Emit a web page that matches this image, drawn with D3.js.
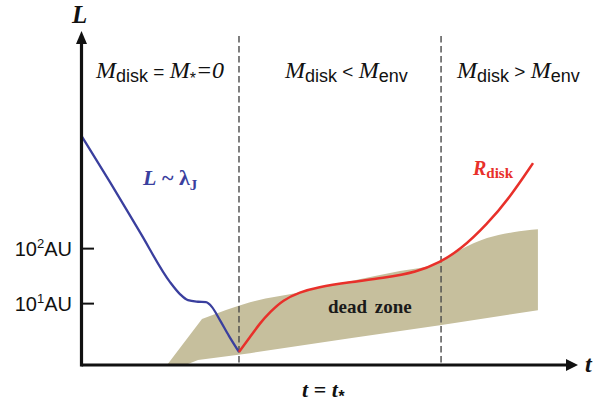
<!DOCTYPE html>
<html>
<head>
<meta charset="utf-8">
<script src="https://cdn.jsdelivr.net/npm/d3@7"></script>
<style>
  body { margin: 0; background: #fff; }
  svg { display: block; }
</style>
</head>
<body>
<svg id="chart" width="601" height="406"></svg>
<script>
// Time in units of t_*, size scale L in AU.
const tickValues = [10, 100];
const tickExponents = ["1", "2"];
const tickUnit = "AU";
const phaseBounds = [1, 2.283];

// Jeans length of the collapsing core, L ~ lambda_J
const jeansT = [0, 0.181, 0.371, 0.562, 0.625, 0.676, 0.740, 0.790, 0.829, 0.879, 0.937, 1.0];
const jeansL = [11000, 1585, 195, 24.1, 14.6, 11.3, 10.6, 10.4, 8.46, 4.91, 2.51, 1.29];

// Disk radius after t_*
const diskT = [1.0, 1.070, 1.133, 1.197, 1.279, 1.387, 1.495, 1.705, 1.914, 2.130, 2.276, 2.403, 2.575, 2.721, 2.867];
const diskL = [1.29, 2.41, 4.33, 6.86, 11.4, 15.8, 19.5, 24.1, 28.5, 36.6, 55.6, 92, 270, 845, 3510];

// Dead zone band: outer edge (from its inner corner) and inner edge back to the axis
const deadTopT = [0.765, 1.070, 1.387, 1.705, 2.022, 2.276, 2.403, 2.575, 2.740, 2.898];
const deadTopL = [5.12, 10.4, 15.8, 25.1, 38.2, 55.6, 92, 152, 195, 221];
const deadBotT = [2.898, 2.276, 1.705, 1.070, 0.740, 0.676, 0.543];
const deadBotL = [7.46, 3.98, 2.31, 1.23, 0.92, 0.78, 0.75];

const svg = d3.select("#chart");
const serif = "'Liberation Serif', 'Times New Roman', serif";
const sans = "'Liberation Sans', Arial, Helvetica, sans-serif";

const x = d3.scaleLinear().domain([0, 3.15]).range([81.5, 577.6]);
const y = d3.scaleLog().domain([0.75, 8.5e5]).range([365, 32]);

const zip = (ts, ls) => ts.map((t, i) => [t, ls[i]]);
const jeans = zip(jeansT, jeansL);
const disk = zip(diskT, diskL);
const deadTop = zip(deadTopT, deadTopL);
const deadBot = zip(deadBotT, deadBotL);

// dead zone band
const smooth = d3.line().x(d => x(d[0])).y(d => y(d[1])).curve(d3.curveMonotoneX);
const straight = d3.line().x(d => x(d[0])).y(d => y(d[1]));
const bandPath = smooth(deadTop) + straight(deadBot).replace(/^M/, "L") + "Z";
svg.append("path").attr("d", bandPath).attr("fill", "#c6bf9d");

// phase boundaries
phaseBounds.forEach(t => {
  svg.append("line")
    .attr("x1", x(t)).attr("x2", x(t))
    .attr("y1", 36).attr("y2", 365)
    .attr("stroke", "#4a4a4a").attr("stroke-width", 1.4)
    .attr("stroke-dasharray", "6.5,3.5");
});

// curves
svg.append("path").datum(jeans)
  .attr("d", smooth).attr("fill", "none")
  .attr("stroke", "#3a3f9e").attr("stroke-width", 2.3);
svg.append("path").datum(disk)
  .attr("d", d3.line().x(d => x(d[0])).y(d => y(d[1])).curve(d3.curveBasis))
  .attr("fill", "none")
  .attr("stroke", "#e8302a").attr("stroke-width", 2.5);

// axes with arrowheads
const x0 = x(0), yBase = y(0.75);
svg.append("line").attr("x1", x0).attr("x2", 568).attr("y1", yBase).attr("y2", yBase)
  .attr("stroke", "#111").attr("stroke-width", 3.2);
svg.append("path").attr("d", `M578,${yBase} L566,${yBase - 6} L566,${yBase + 6} Z`).attr("fill", "#111");
svg.append("line").attr("x1", x0).attr("x2", x0).attr("y1", yBase + 1.6).attr("y2", 42)
  .attr("stroke", "#111").attr("stroke-width", 3.2);
svg.append("path").attr("d", `M${x0},31 L${x0 - 5.5},44 L${x0 + 5.5},44 Z`).attr("fill", "#111");

// tick marks and labels
const yAxis = d3.axisLeft(y).tickValues(tickValues).tickSize(-11).tickPadding(11).tickFormat(() => "");
const gy = svg.append("g").attr("transform", `translate(${x0 + 1.5},0)`).call(yAxis);
gy.select(".domain").remove();
gy.selectAll(".tick line").attr("stroke", "#111").attr("stroke-width", 2);
gy.selectAll(".tick text").each(function(d, i) {
  const t = d3.select(this)
    .attr("font-family", sans).attr("font-size", 20).attr("fill", "#111")
    .attr("dy", "0.35em");
  t.append("tspan").text("10");
  t.append("tspan").attr("font-size", 13).attr("dy", -8).text(tickExponents[i]);
  t.append("tspan").attr("dy", 8).text(tickUnit);
});

// axis titles
svg.append("text").attr("x", 72).attr("y", 23)
  .attr("font-family", serif).attr("font-style", "italic").attr("font-weight", "bold")
  .attr("font-size", 25).attr("fill", "#111").text("L");
svg.append("text").attr("x", 585).attr("y", 372)
  .attr("font-family", serif).attr("font-style", "italic").attr("font-weight", "bold")
  .attr("font-size", 24).attr("fill", "#111").text("t");

const tstar = svg.append("text").attr("x", 302).attr("y", 397)
  .attr("font-family", serif).attr("font-style", "italic").attr("font-weight", "bold")
  .attr("font-size", 22).attr("fill", "#111");
tstar.append("tspan").text("t");
tstar.append("tspan").attr("font-style", "normal").text(" = ");
tstar.append("tspan").text("t");
tstar.append("tspan").attr("font-size", 16).attr("dy", 5).attr("font-family", sans).text("*");

// phase labels
function phaseLabel(px, parts) {
  const t = svg.append("text").attr("x", px).attr("y", 78).attr("fill", "#111");
  let shift = 0;
  parts.forEach(p => {
    const s = t.append("tspan").text(p.s)
      .attr("font-family", p.f === "sans" ? sans : serif)
      .attr("font-style", p.i ? "italic" : "normal")
      .attr("font-size", p.z);
    const dy = (p.d || 0) - shift;
    if (dy) s.attr("dy", dy);
    shift = p.d || 0;
  });
}
phaseLabel(96, [
  { s: "M", f: "serif", i: true, z: 24 },
  { s: "disk", f: "sans", z: 18, d: 4 },
  { s: " = ", f: "sans", z: 19 },
  { s: "M", f: "serif", i: true, z: 24 },
  { s: "*", f: "sans", z: 16, d: 6 },
  { s: "=0", f: "serif", i: true, z: 24 }
]);
phaseLabel(285, [
  { s: "M", f: "serif", i: true, z: 24 },
  { s: "disk", f: "sans", z: 18, d: 4 },
  { s: " < ", f: "sans", z: 19 },
  { s: "M", f: "serif", i: true, z: 24 },
  { s: "env", f: "sans", z: 18, d: 4 }
]);
phaseLabel(457, [
  { s: "M", f: "serif", i: true, z: 24 },
  { s: "disk", f: "sans", z: 18, d: 4 },
  { s: " > ", f: "sans", z: 19 },
  { s: "M", f: "serif", i: true, z: 24 },
  { s: "env", f: "sans", z: 18, d: 4 }
]);

// curve labels
const lj = svg.append("text").attr("x", 143).attr("y", 185)
  .attr("font-family", serif).attr("font-weight", "bold").attr("fill", "#3a3f9e");
lj.append("tspan").attr("font-style", "italic").attr("font-size", 22).text("L");
lj.append("tspan").attr("font-size", 22).text(" ~ λ");
lj.append("tspan").attr("font-size", 15).attr("dy", 5).text("J");

const rd = svg.append("text").attr("x", 473).attr("y", 175)
  .attr("font-family", serif).attr("font-weight", "bold").attr("fill", "#e8302a");
rd.append("tspan").attr("font-style", "italic").attr("font-size", 20).text("R");
rd.append("tspan").attr("font-size", 15).attr("dy", 3).text("disk");

svg.append("text").attr("x", 328).attr("y", 313)
  .attr("font-family", serif).attr("font-weight", "bold").attr("font-size", 19)
  .attr("word-spacing", 3).attr("fill", "#1a1a1a").text("dead zone");
</script>
</body>
</html>
